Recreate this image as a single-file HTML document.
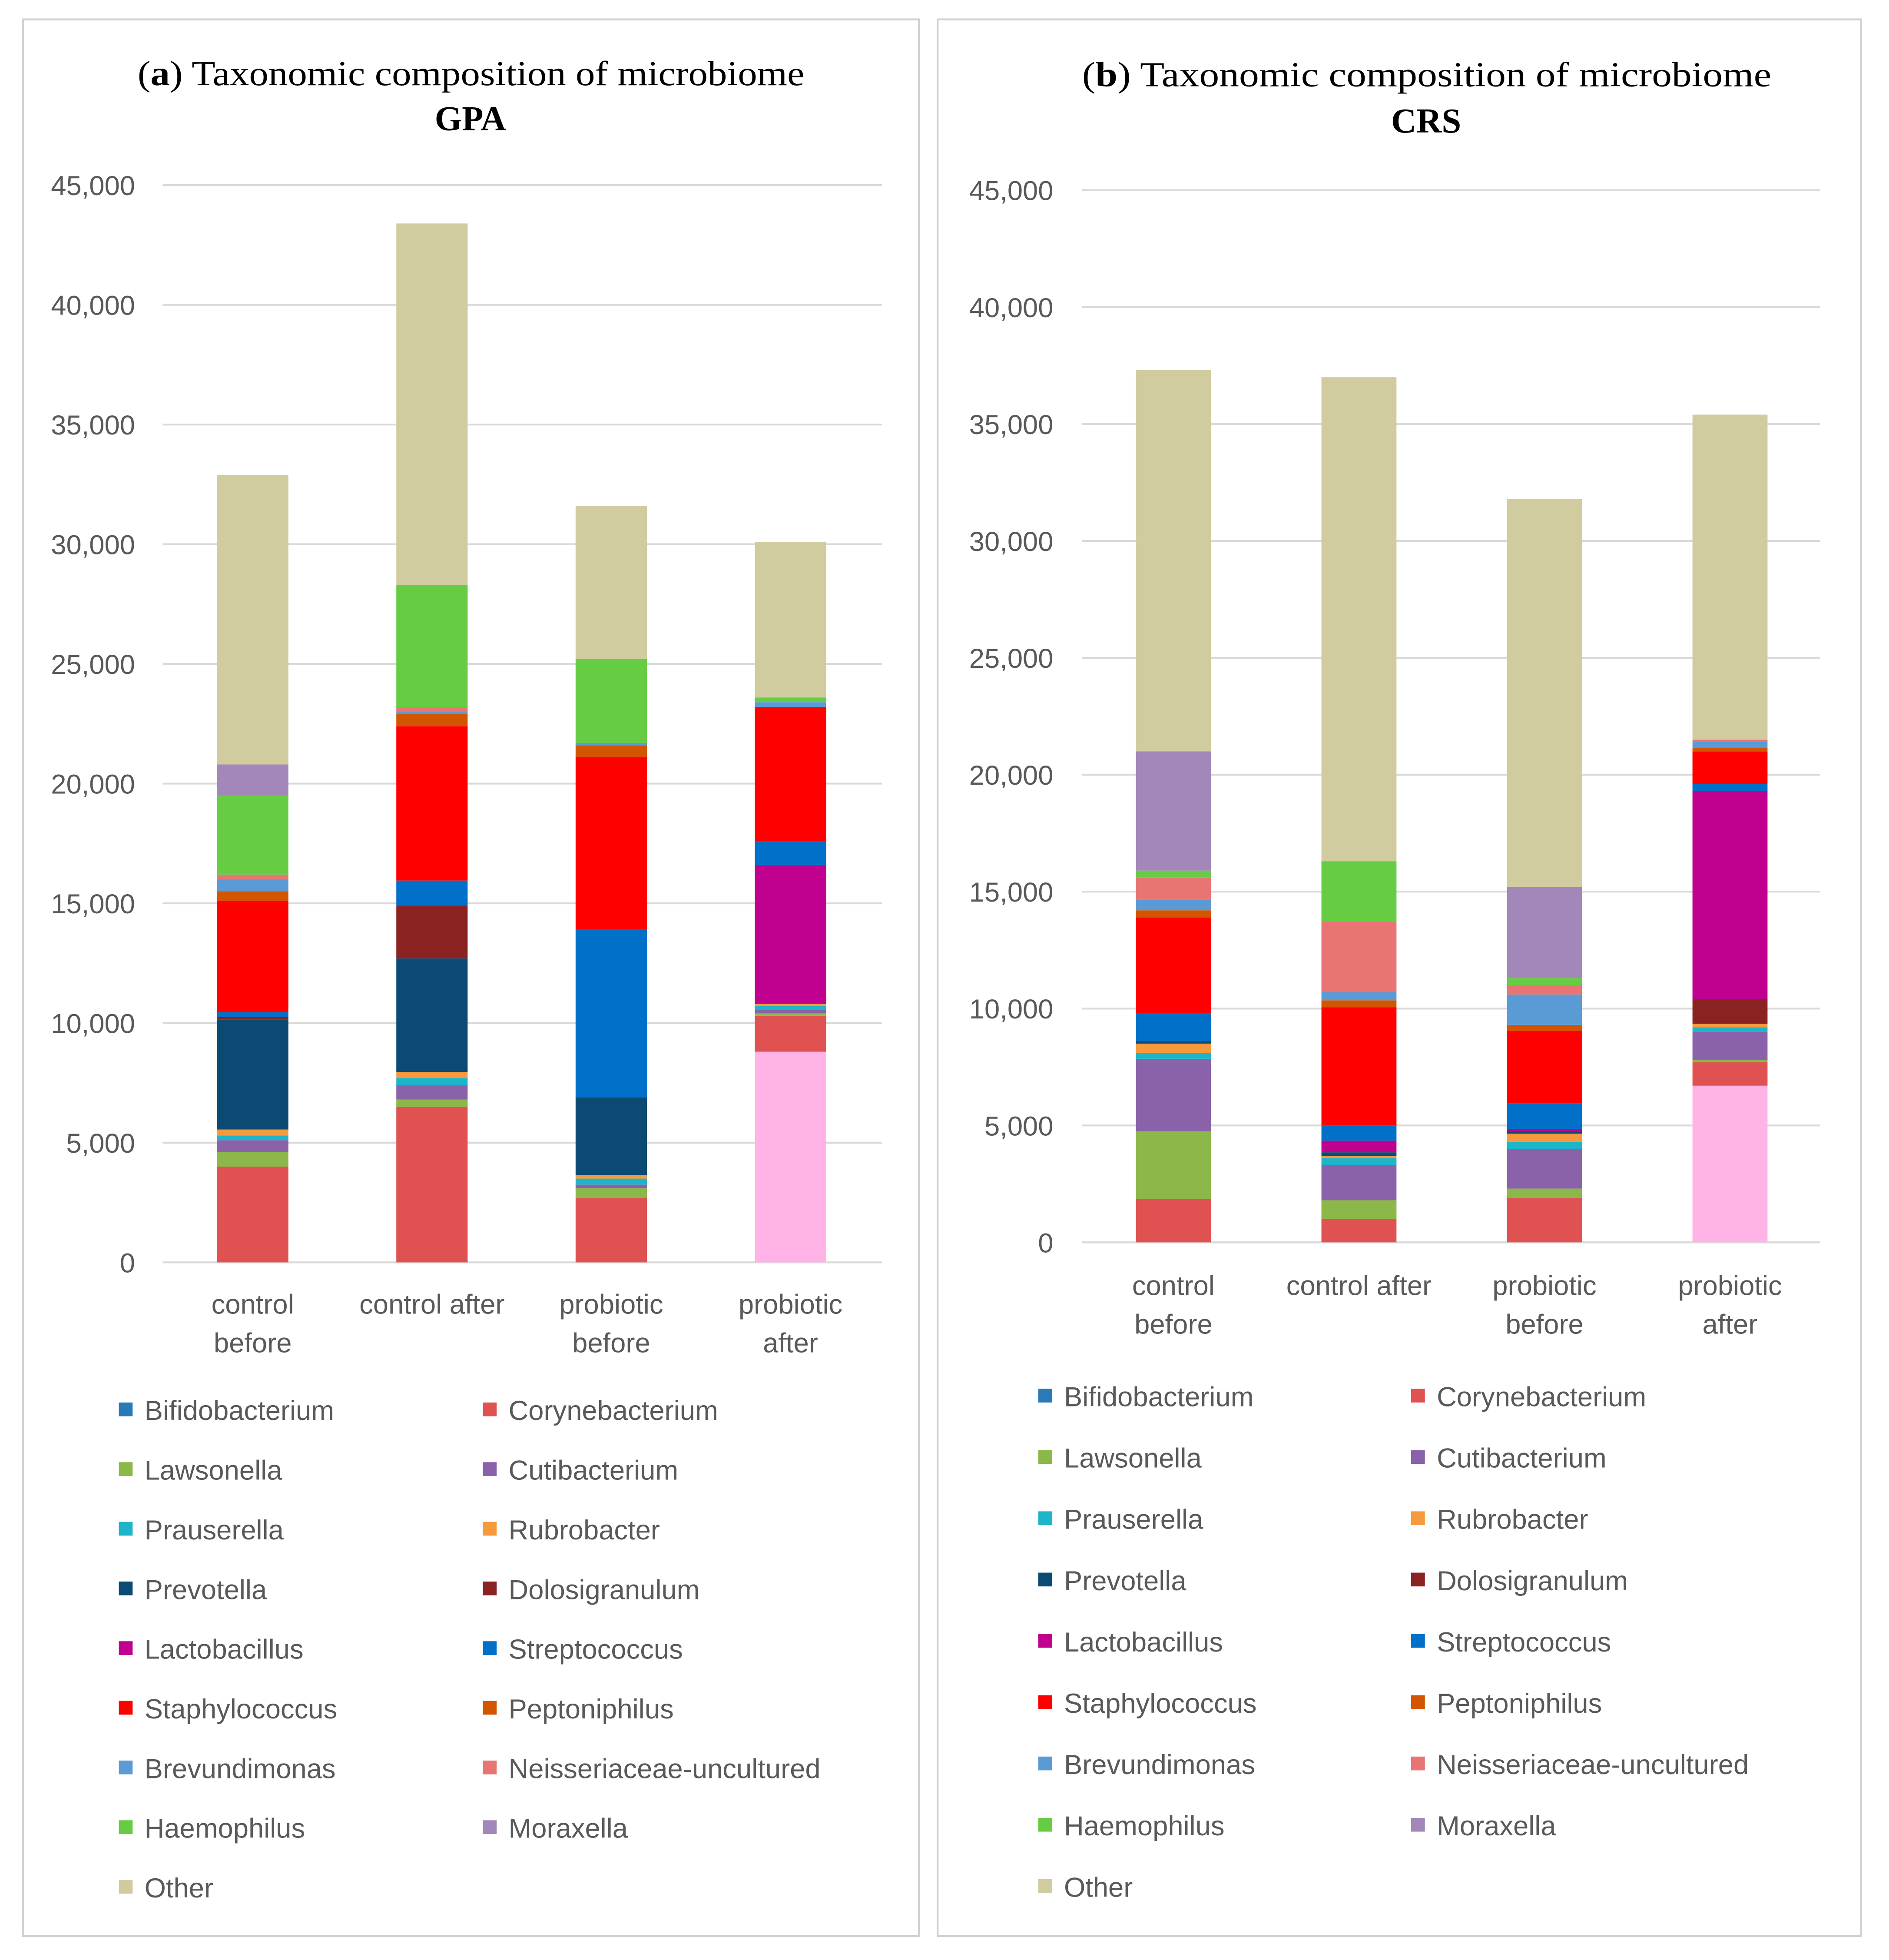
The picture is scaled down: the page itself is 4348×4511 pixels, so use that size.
<!DOCTYPE html>
<html><head><meta charset="utf-8"><style>
html,body{margin:0;padding:0;background:#fff;}
svg{display:block;}
text{font-family:"Liberation Sans",sans-serif;}
.t{font-family:"Liberation Serif",serif;font-size:28px;fill:#000;}
.tk{font-size:22px;fill:#595959;}
.lg{font-size:22px;fill:#595959;}
</style></head><body>
<svg id="root" width="4348" height="4511" viewBox="0 0 1510 1566.6" preserveAspectRatio="none" xmlns="http://www.w3.org/2000/svg">
<rect x="18.5" y="15.5" width="716" height="1532" fill="#fff" stroke="#d0d0d0" stroke-width="1.5"/>
<rect x="749.5" y="15.5" width="738" height="1532" fill="#fff" stroke="#d0d0d0" stroke-width="1.5"/>
<text class="t" x="110" y="68" textLength="533" lengthAdjust="spacingAndGlyphs">(<tspan font-weight="bold">a</tspan>) Taxonomic composition of microbiome</text>
<text class="t" x="376" y="104" text-anchor="middle" font-weight="bold">GPA</text>
<text class="t" x="865" y="69" textLength="551" lengthAdjust="spacingAndGlyphs">(<tspan font-weight="bold">b</tspan>) Taxonomic composition of microbiome</text>
<text class="t" x="1140" y="106" text-anchor="middle" font-weight="bold">CRS</text>
<g id="ga"></g><g id="gb"></g>
</svg>
<script>
const seriesNames=["Bifidobacterium","Corynebacterium","Lawsonella","Cutibacterium","Prauserella","Rubrobacter","Prevotella","Dolosigranulum","Lactobacillus","Streptococcus","Staphylococcus","Peptoniphilus","Brevundimonas","Neisseriaceae-uncultured","Haemophilus","Moraxella","Other"];
const barColors=["#ffb3e6","#e05252","#8cb84a","#8a62aa","#1cb5c9","#f79a3e","#0b4a72","#8b2222","#c0008f","#0070c8","#ff0000","#d45500","#5b9bd5","#e87474","#66cc44","#a287b8","#d0cca0"];
const legendColors=["#2a7ab8","#e05252","#8cb84a","#8a62aa","#1cb5c9","#f79a3e","#0b4a72","#8b2222","#c0008f","#0070c8","#ff0000","#d45500","#5b9bd5","#e87474","#66cc44","#a287b8","#d0cca0"];
const categories=[["control","before"],["control after"],["probiotic","before"],["probiotic","after"]];
const yTicks=[0,5000,10000,15000,20000,25000,30000,35000,40000,45000];
const gpaControlBefore=[0,4000,600,500,200,250,4600,100,0,200,4650,400,500,200,3300,1300,12100];
const gpaControlAfter=[0,6500,300,600,300,250,4750,2200,0,1050,6450,500,100,200,5100,0,15100];
const gpaProbioticBefore=[0,2700,400,150,250,150,3250,0,0,7000,7200,500,100,0,3500,0,6400];
const gpaProbioticAfter=[8800,1500,100,150,150,100,0,0,5800,1000,5600,0,200,0,200,0,6500];
const crsControlBefore=[0,1850,2900,3100,250,400,100,0,0,1200,4100,300,450,950,300,5100,16300];
const crsControlAfter=[0,1000,800,1500,300,100,150,0,500,650,5050,300,350,3000,2600,0,20700];
const crsProbioticBefore=[0,1900,400,1700,300,350,100,0,100,1100,3100,250,1300,400,300,3900,16600];
const crsProbioticAfter=[6700,1000,100,1200,200,150,0,1050,8900,300,1400,150,250,100,0,0,13900];

const NS="http://www.w3.org/2000/svg";
function mk(p,tag,attrs){const e=document.createElementNS(NS,tag);for(const k in attrs)e.setAttribute(k,attrs[k]);p.appendChild(e);return e;}
function draw(g,cfg,data,pfx){
  const y=v=>cfg.y0-(cfg.y0-cfg.y45)*v/45000;
  yTicks.forEach(t=>{
    const l=mk(g,"line",{x1:cfg.gx0,x2:cfg.gx1,y1:y(t),y2:y(t),stroke:"#d9d9d9","stroke-width":1.5});
    
    
    const tx=mk(g,"text",{x:cfg.tickX,y:y(t)+8,"text-anchor":"end",class:"tk"});
    tx.textContent=t.toLocaleString("en-US");
    
    
  });
  data.forEach((vals,ci)=>{
    const cx=cfg.cx0+ci*cfg.step;let acc=0;
    vals.forEach((v,si)=>{
      if(v<=0)return;
      const r=mk(g,"rect",{x:cx-cfg.bw/2,y:y(acc+v),width:cfg.bw,height:y(acc)-y(acc+v),fill:barColors[si]});
      
      
      acc+=v;
    });
    const lines=categories[ci];
    lines.forEach((s,li)=>{
      const tx=mk(g,"text",{x:cx,y:cfg.xl+li*31,"text-anchor":"middle",class:"tk"});
      tx.textContent=s;
      
      
    });
  });
  seriesNames.forEach((n,i)=>{
    const col=i%2,row=Math.floor(i/2);
    const ly=cfg.lgY+row*cfg.lgStep;
    const mx=col?cfg.lgX2:cfg.lgX1;
    const r=mk(g,"rect",{x:mx-6,y:ly-7,width:11,height:11,fill:legendColors[i]});
    
    
    const tx=mk(g,"text",{x:mx+14.5,y:ly+7,class:"lg"});
    tx.textContent=n;
    
    
  });
}
draw(document.getElementById("ga"),{y0:1009,y45:148,gx0:130,gx1:705,tickX:108,cx0:202,step:143.3,bw:57,xl:1050,lgY:1128,lgStep:47.7,lgX1:101,lgX2:392},
 [gpaControlBefore,gpaControlAfter,gpaProbioticBefore,gpaProbioticAfter],"gpa");
draw(document.getElementById("gb"),{y0:993,y45:152,gx0:865,gx1:1455,tickX:842,cx0:938,step:148.3,bw:60,xl:1035,lgY:1117,lgStep:49,lgX1:836,lgX2:1134},
 [crsControlBefore,crsControlAfter,crsProbioticBefore,crsProbioticAfter],"crs");
</script>
</body></html>
